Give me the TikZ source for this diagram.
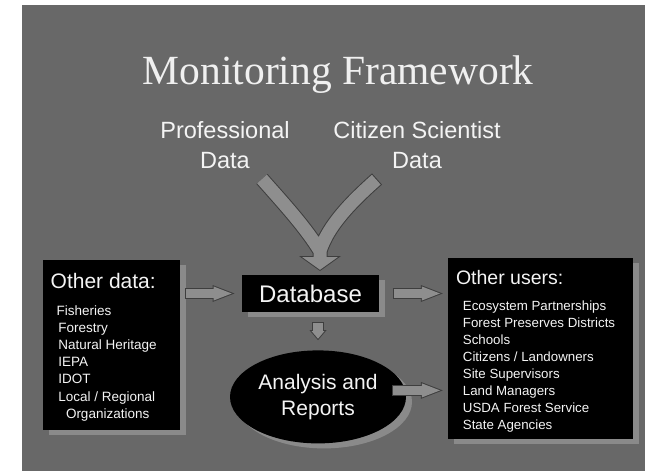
\documentclass[tikz,border=0pt]{standalone}
\usepackage{fontspec}
\setmainfont{Liberation Serif}
\setsansfont{Liberation Sans}
\usetikzlibrary{arrows.meta,positioning,shapes.geometric,shadows}

\definecolor{slidegray}{HTML}{686868}
\definecolor{arrowfill}{HTML}{8E8E8E}
\definecolor{arrowedge}{HTML}{3E3E3E}
\definecolor{boxshade}{HTML}{8A8A8A}
\definecolor{textwhite}{HTML}{F4F4F4}

\begin{document}
\begin{tikzpicture}[x=1pt, y=-1pt,
    darkbox/.style={fill=black, inner sep=0pt, drop shadow={shadow xshift=6pt, shadow yshift=-5pt, fill=boxshade, opacity=1}},
    heading/.style={text=textwhite, inner sep=0pt, anchor=base west, font=\sffamily\fontsize{21}{21}\selectfont},
    listing/.style={text=textwhite, inner sep=0pt, anchor=north west, align=left, font=\sffamily\fontsize{13.5}{17.2}\selectfont},
    source/.style={text=textwhite, inner sep=0pt, align=center, font=\sffamily\fontsize{23.5}{29.3}\selectfont},
    fat/.style={draw=arrowfill, line width=9pt, shorten <=1pt, shorten >=2.8pt,
        -{Triangle[length=18.2pt, width=14.1pt, line width=0pt]},
        preaction={draw=arrowedge, line width=11pt, shorten <=0pt, shorten >=0pt,
            -{Triangle[length=22pt, width=17pt, line width=0pt]}}},
    fatdown/.style={draw=arrowfill, line width=10pt, shorten <=1pt, shorten >=1.5pt,
        -{Triangle[length=7.5pt, width=12.7pt, line width=0pt]},
        preaction={draw=arrowedge, line width=12pt, shorten <=0pt, shorten >=0pt,
            -{Triangle[length=10pt, width=17pt, line width=0pt]}}},
    vee/.style={draw=arrowfill, line width=13pt, shorten <=1pt, shorten >=1.2pt,
        -{Triangle[length=12.8pt, width=35.8pt, line width=0pt]},
        preaction={draw=arrowedge, line width=15pt, shorten <=0pt, shorten >=0pt,
            -{Triangle[length=15pt, width=42pt, line width=0pt]}}}
]
    % Slide
    \fill[white] (0,0) rectangle (653,473);
    \fill[slidegray] (22,5) rectangle (645,471);

    % Title and data sources
    \node[text=gray!12, font=\fontsize{41.5}{41.5}\selectfont] (title) at (338.3,74.3) {Monitoring Framework};
    \node[source] (pro) at (225,145) {Professional\\Data};
    \node[source] (cit) at (417,145) {Citizen Scientist\\Data};

    % Main boxes
    \node[darkbox, minimum width=137.6pt, minimum height=37pt, text=textwhite,
        font=\sffamily\fontsize{24}{24}\selectfont] (db) at (310.5,293.5) {Database};
    \node[darkbox, ellipse, minimum width=176pt, minimum height=93pt, text=textwhite, align=center,
        font=\sffamily\fontsize{21}{26}\selectfont, below=38pt of db, xshift=7.5pt] (ana) {Analysis and\\Reports};
    \node[darkbox, minimum width=137.3pt, minimum height=170pt] (othbox) at (111.35,345) {};
    \node[darkbox, minimum width=185pt, minimum height=181pt] (usersbox) at (540.5,348.5) {};

    % Box contents
    \node[heading] (othhead) at ([shift={(8,29)}]othbox.north west) {Other data:};
    \node[listing] (othlist) at ([shift={(15.6,45.3)}]othbox.north west)
        {\kern-1.6pt Fisheries\\Forestry\\Natural Heritage\\IEPA\\IDOT\\Local / Regional\\\hspace*{7.7pt}Organizations};
    \node[heading, font=\sffamily\fontsize{19.5}{19.5}\selectfont] (usershead) at ([shift={(8,27)}]usersbox.north west) {Other users:};
    \node[listing, font=\sffamily\fontsize{13.3}{16.9}\selectfont] (userslist) at ([shift={(14.9,43.2)}]usersbox.north west)
        {Ecosystem Partnerships\\Forest Preserves Districts\\Schools\\Citizens / Landowners\\Site Supervisors\\Land Managers\\USDA Forest Service\\State Agencies};

    % Merging arrow from both data sources
    \coordinate (profoot) at (262,179);
    \coordinate (citfoot) at (377,179);
    \coordinate (vjoin) at (320,251);
    \coordinate (vbase) at (320,257);
    \coordinate (vtip) at (320,271);
    \draw[vee] (profoot) .. controls (285,205) and (306,228) .. (vjoin) -- (vbase)
        (citfoot) .. controls (350,203) and (328,226) .. (vjoin) -- (vtip);

    % Block arrows
    \coordinate (anaout) at ([shift={(-14,-6.5)}]ana.east);
    \draw[fat] ([xshift=5pt]othbox.east |- db.west) -- ([xshift=-7pt]db.west);
    \draw[fat] ([xshift=13pt]db.east) -- ([xshift=-5pt]usersbox.west |- db.east);
    \draw[fat] (anaout) -- ([xshift=-5pt]usersbox.west |- anaout);
    \draw[fatdown] ([yshift=-10pt]ana.north |- db.south) -- ([yshift=10pt]ana.north);
\end{tikzpicture}
\end{document}
